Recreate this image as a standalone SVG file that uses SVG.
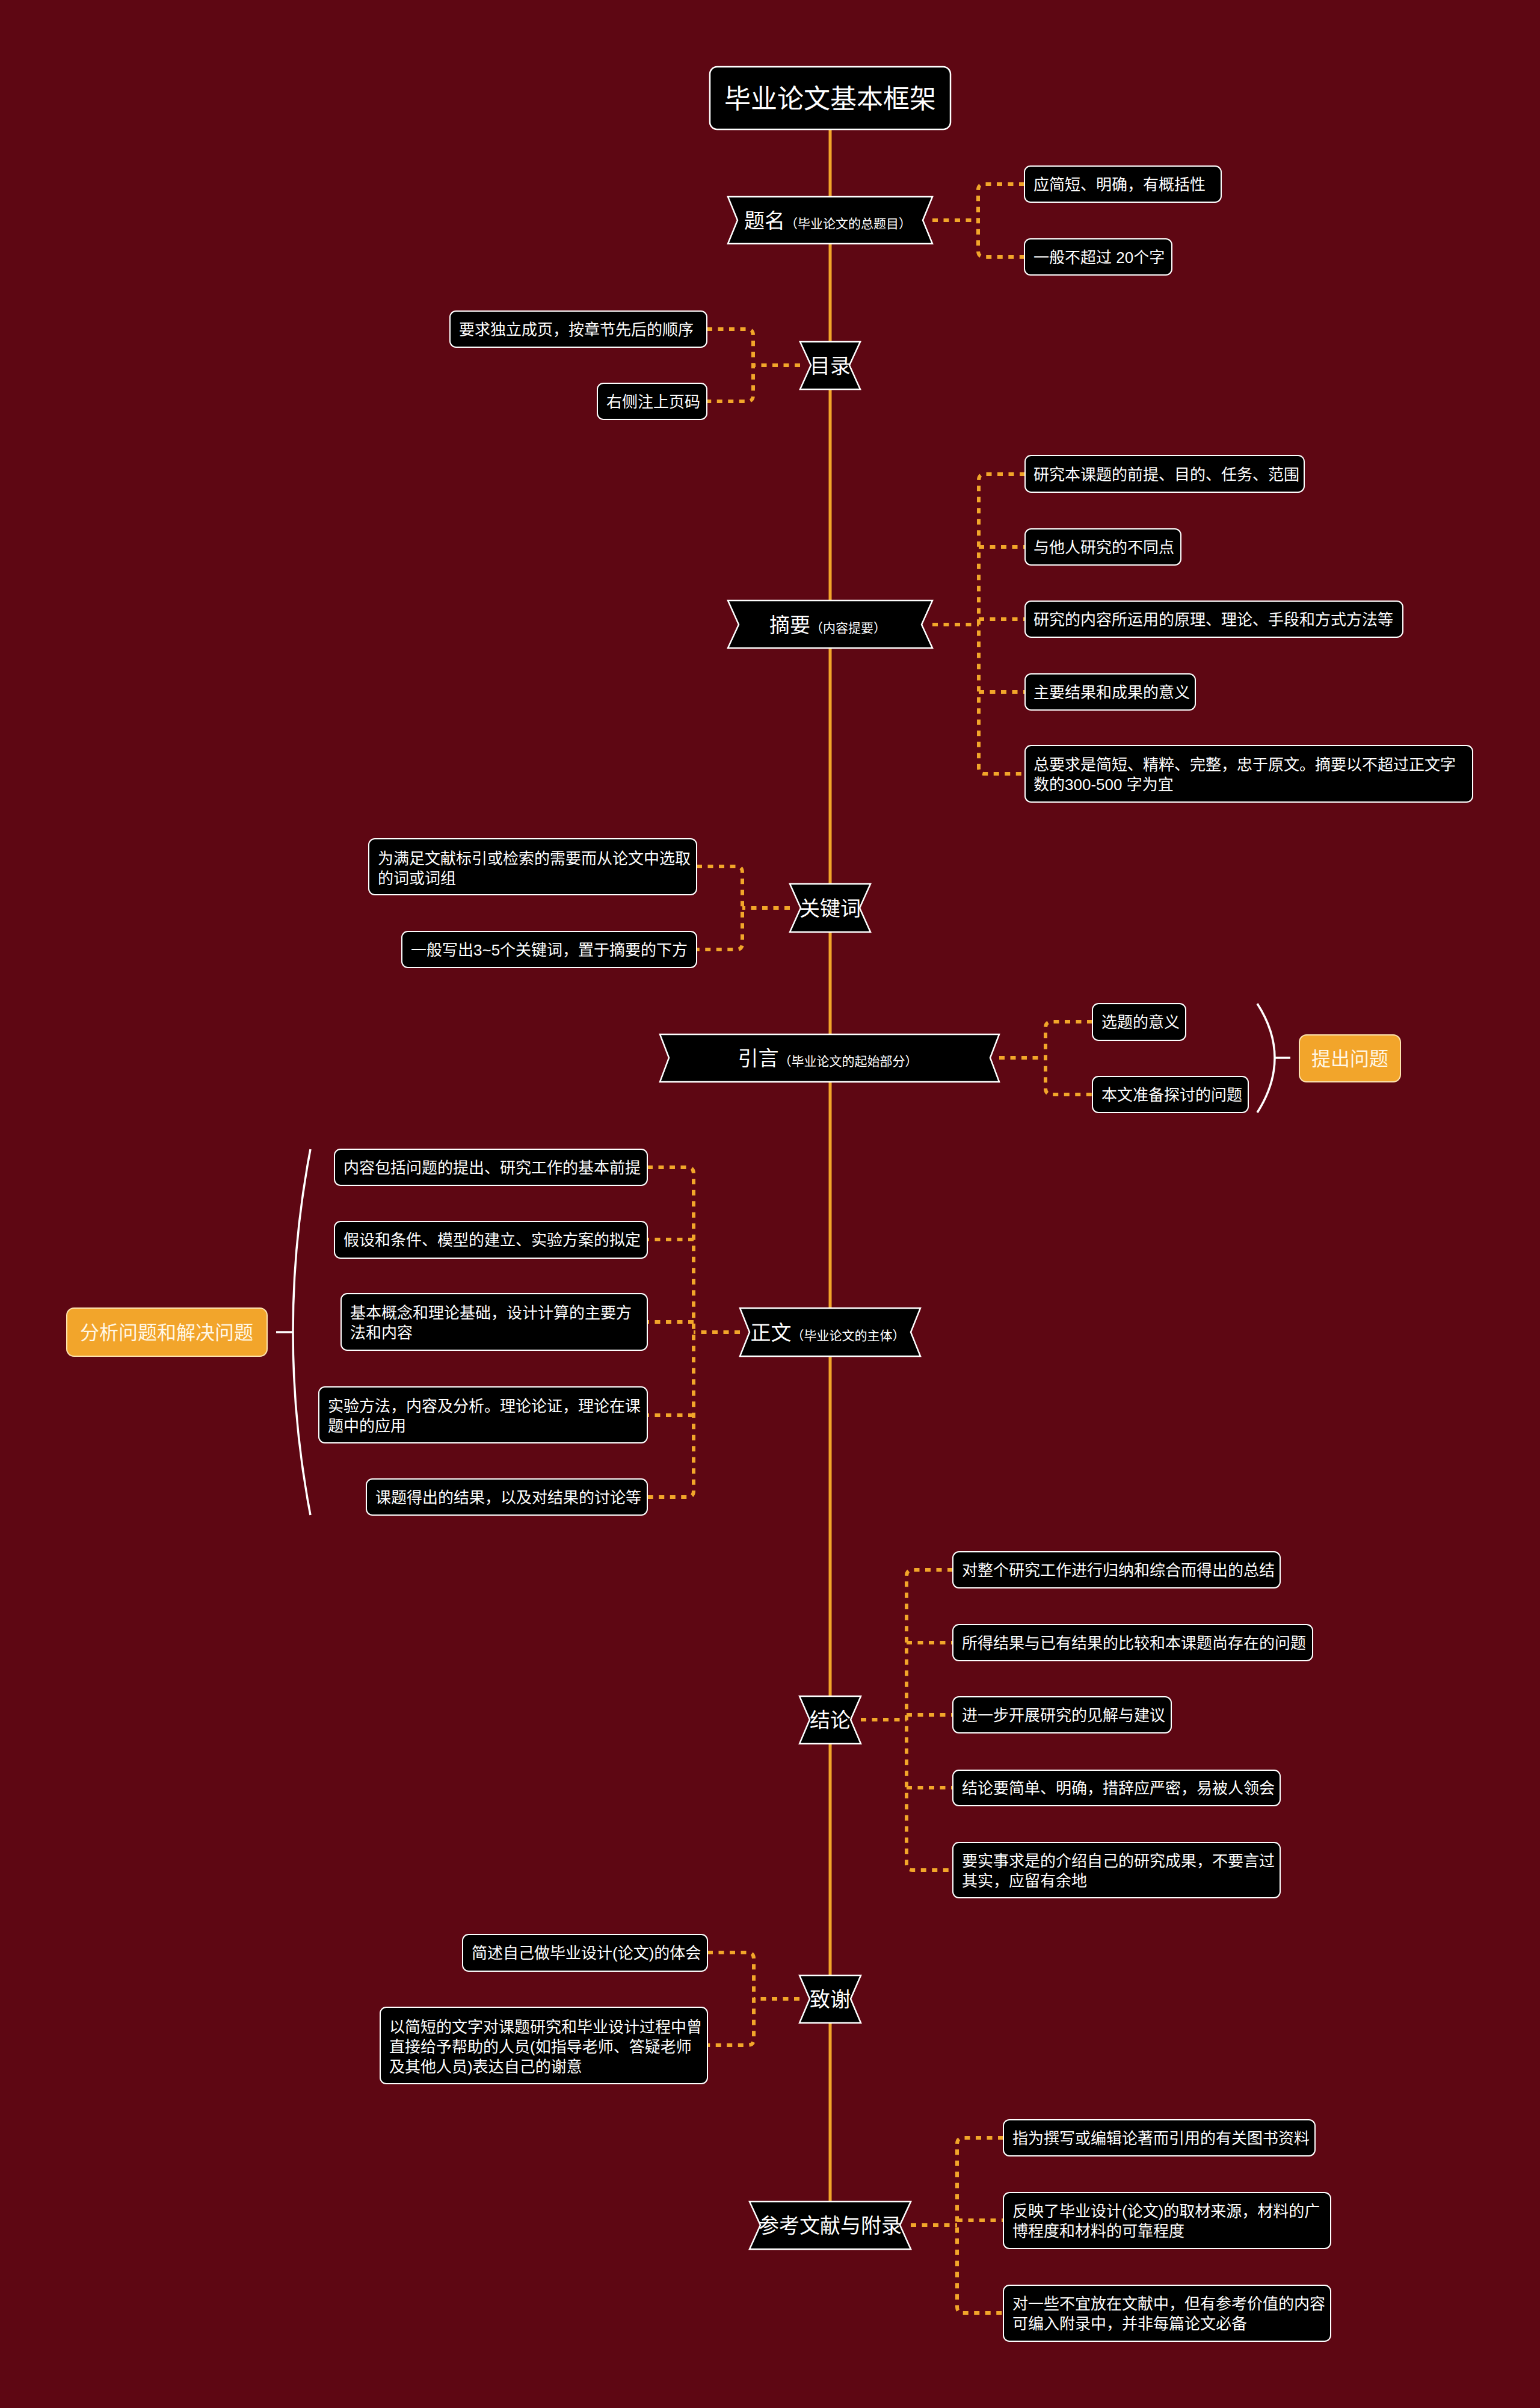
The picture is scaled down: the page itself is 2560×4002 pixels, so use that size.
<svg xmlns="http://www.w3.org/2000/svg" width="2560" height="4002" viewBox="0 0 2560 4002">
<style>
.bg{fill:#5E0713}
.spine{stroke:#F2A62A;stroke-width:5;fill:none}
.conn{fill:none;stroke:#F2A62A;stroke-width:6;stroke-dasharray:9 9.5}
.hub{fill:#000;stroke:#fff;stroke-width:2.5}
.leaf{fill:#000;stroke:#fff;stroke-width:2;rx:10px;ry:10px}
.root{fill:#000;stroke:#fff;stroke-width:2.5;rx:12px;ry:12px}
.org{fill:#F2A52B;stroke:#FCE3B0;stroke-width:2;rx:12px;ry:12px}
.brace{fill:none;stroke:#fff;stroke-width:3.5}
text{fill:#fff;font-family:"Liberation Sans","Noto Sans CJK SC",sans-serif}
.t26{font-size:26px}
.th{font-size:34px}
.ts{font-size:21px}
.tr{font-size:44px}
.to{font-size:32px;fill:#FFF7E6}
</style>
<rect class="bg" x="0" y="0" width="2560" height="4002"/>

<g id="connectors">
<line class="spine" x1="1380" y1="215" x2="1380" y2="3659"/>
<path class="conn" d="M1550,366 H1626 M1703,306 H1636 Q1626,306 1626,316 V417 Q1626,427 1636,427 H1703"/>
<path class="conn" d="M1330,607 H1252 M1175,547 H1242 Q1252,547 1252,557 V657 Q1252,667 1242,667 H1175"/>
<path class="conn" d="M1550,1038 H1627 M1704,788 H1637 Q1627,788 1627,798 V1276 Q1627,1286 1637,1286 H1704 M1627,909 H1704 M1627,1029 H1704 M1627,1150 H1704"/>
<path class="conn" d="M1313,1509 H1234 M1158,1440 H1224 Q1234,1440 1234,1450 V1568 Q1234,1578 1224,1578 H1158"/>
<path class="conn" d="M1661,1758 H1738 M1816,1698 H1748 Q1738,1698 1738,1708 V1809 Q1738,1819 1748,1819 H1816"/>
<path class="conn" d="M1230,2214 H1153 M1076,1940 H1143 Q1153,1940 1153,1950 V2478 Q1153,2488 1143,2488 H1076 M1153,2060 H1076 M1153,2197 H1076 M1153,2352 H1076"/>
<path class="conn" d="M1431,2858 H1507 M1584,2609 H1517 Q1507,2609 1507,2619 V3098 Q1507,3108 1517,3108 H1584 M1507,2730 H1584 M1507,2850 H1584 M1507,2971 H1584"/>
<path class="conn" d="M1329,3322 H1253 M1176,3245 H1243 Q1253,3245 1253,3255 V3389 Q1253,3399 1243,3399 H1176"/>
<path class="conn" d="M1514,3698 H1591 M1668,3553 H1601 Q1591,3553 1591,3563 V3834 Q1591,3844 1601,3844 H1668 M1591,3690 H1668"/>
<path class="brace" d="M2090,1668 Q2148,1758 2090,1849 M2119,1758 H2145"/>
<path class="brace" d="M516,1910 Q458,2214 516,2518 M487,2214 H459"/>
</g>

<g id="root">
<rect class="root" x="1180" y="111" width="400" height="104"/>
<text class="tr" x="1380" y="180" text-anchor="middle">毕业论文基本框架</text>
</g>

<g id="n-timing">
<polygon class="hub" points="1210,327 1550,327 1534,366 1550,405 1210,405 1226,366"/>
<text x="1376" y="379" text-anchor="middle"><tspan class="th">题名</tspan><tspan class="ts">（毕业论文的总题目）</tspan></text>
</g>
<g id="l-timing-1"><rect class="leaf" x="1703" y="276" width="327" height="60"/><text class="t26" x="1718" y="316">应简短、明确，有概括性</text></g>
<g id="l-timing-2"><rect class="leaf" x="1703" y="397" width="245" height="60"/><text class="t26" x="1718" y="437">一般不超过 20个字</text></g>

<g id="n-mulu">
<polygon class="hub" points="1330,568 1430,568 1412,607 1430,647 1330,647 1348,607"/>
<text class="th" x="1380" y="620" text-anchor="middle">目录</text>
</g>
<g id="l-mulu-1"><rect class="leaf" x="748" y="517" width="427" height="60"/><text class="t26" x="763" y="557">要求独立成页，按章节先后的顺序</text></g>
<g id="l-mulu-2"><rect class="leaf" x="993" y="637" width="182" height="60"/><text class="t26" x="1008" y="677">右侧注上页码</text></g>

<g id="n-zhaiyao">
<polygon class="hub" points="1210,998 1550,998 1532,1038 1550,1077 1210,1077 1228,1038"/>
<text x="1376" y="1051" text-anchor="middle"><tspan class="th">摘要</tspan><tspan class="ts">（内容提要）</tspan></text>
</g>
<g id="l-zy-1"><rect class="leaf" x="1704" y="757" width="464" height="61"/><text class="t26" x="1718" y="798">研究本课题的前提、目的、任务、范围</text></g>
<g id="l-zy-2"><rect class="leaf" x="1704" y="879" width="259" height="60"/><text class="t26" x="1718" y="919">与他人研究的不同点</text></g>
<g id="l-zy-3"><rect class="leaf" x="1704" y="999" width="628" height="60"/><text class="t26" x="1718" y="1039">研究的内容所运用的原理、理论、手段和方式方法等</text></g>
<g id="l-zy-4"><rect class="leaf" x="1704" y="1120" width="283" height="60"/><text class="t26" x="1718" y="1160">主要结果和成果的意义</text></g>
<g id="l-zy-5"><rect class="leaf" x="1704" y="1239" width="744" height="94"/><text class="t26" x="1718" y="1280">总要求是简短、精粹、完整，忠于原文。摘要以不超过正文字</text><text class="t26" x="1718" y="1313">数的300-500 字为宜</text></g>

<g id="n-guanjianci">
<polygon class="hub" points="1313,1469 1447,1469 1429,1509 1447,1549 1313,1549 1331,1509"/>
<text class="th" x="1380" y="1522" text-anchor="middle">关键词</text>
</g>
<g id="l-gjc-1"><rect class="leaf" x="613" y="1394" width="545" height="93"/><text class="t26" x="628" y="1436">为满足文献标引或检索的需要而从论文中选取</text><text class="t26" x="628" y="1469">的词或词组</text></g>
<g id="l-gjc-2"><rect class="leaf" x="668" y="1548" width="490" height="60"/><text class="t26" x="683" y="1588">一般写出3~5个关键词，置于摘要的下方</text></g>

<g id="n-yinyan">
<polygon class="hub" points="1097,1719 1661,1719 1646,1758 1661,1798 1097,1798 1112,1758"/>
<text x="1376" y="1771" text-anchor="middle"><tspan class="th">引言</tspan><tspan class="ts">（毕业论文的起始部分）</tspan></text>
</g>
<g id="l-yy-1"><rect class="leaf" x="1816" y="1668" width="155" height="61"/><text class="t26" x="1831" y="1708">选题的意义</text></g>
<g id="l-yy-2"><rect class="leaf" x="1816" y="1789" width="259" height="60"/><text class="t26" x="1831" y="1829">本文准备探讨的问题</text></g>
<g id="s-tichu"><rect class="org" x="2160" y="1720" width="168" height="78"/><text class="to" x="2244" y="1771" text-anchor="middle">提出问题</text></g>

<g id="n-zhengwen">
<polygon class="hub" points="1230,2174 1530,2174 1514,2214 1530,2254 1230,2254 1246,2214"/>
<text x="1376" y="2227" text-anchor="middle"><tspan class="th">正文</tspan><tspan class="ts">（毕业论文的主体）</tspan></text>
</g>
<g id="l-zw-1"><rect class="leaf" x="556" y="1910" width="520" height="60"/><text class="t26" x="571" y="1950">内容包括问题的提出、研究工作的基本前提</text></g>
<g id="l-zw-2"><rect class="leaf" x="556" y="2030" width="520" height="61"/><text class="t26" x="571" y="2070">假设和条件、模型的建立、实验方案的拟定</text></g>
<g id="l-zw-3"><rect class="leaf" x="567" y="2150" width="509" height="94"/><text class="t26" x="582" y="2191">基本概念和理论基础，设计计算的主要方</text><text class="t26" x="582" y="2224">法和内容</text></g>
<g id="l-zw-4"><rect class="leaf" x="530" y="2305" width="546" height="93"/><text class="t26" x="545" y="2346">实验方法，内容及分析。理论论证，理论在课</text><text class="t26" x="545" y="2379">题中的应用</text></g>
<g id="l-zw-5"><rect class="leaf" x="609" y="2458" width="467" height="60"/><text class="t26" x="624" y="2498">课题得出的结果，以及对结果的讨论等</text></g>
<g id="s-fenxi"><rect class="org" x="111" y="2174" width="333" height="80"/><text class="to" x="277" y="2226" text-anchor="middle">分析问题和解决问题</text></g>

<g id="n-jielun">
<polygon class="hub" points="1329,2819 1431,2819 1414,2858 1431,2898 1329,2898 1346,2858"/>
<text class="th" x="1380" y="2871" text-anchor="middle">结论</text>
</g>
<g id="l-jl-1"><rect class="leaf" x="1584" y="2579" width="544" height="60"/><text class="t26" x="1599" y="2619">对整个研究工作进行归纳和综合而得出的总结</text></g>
<g id="l-jl-2"><rect class="leaf" x="1584" y="2700" width="598" height="60"/><text class="t26" x="1599" y="2740">所得结果与已有结果的比较和本课题尚存在的问题</text></g>
<g id="l-jl-3"><rect class="leaf" x="1584" y="2820" width="363" height="60"/><text class="t26" x="1599" y="2860">进一步开展研究的见解与建议</text></g>
<g id="l-jl-4"><rect class="leaf" x="1584" y="2942" width="544" height="59"/><text class="t26" x="1599" y="2981">结论要简单、明确，措辞应严密，易被人领会</text></g>
<g id="l-jl-5"><rect class="leaf" x="1584" y="3062" width="544" height="92"/><text class="t26" x="1599" y="3102">要实事求是的介绍自己的研究成果，不要言过</text><text class="t26" x="1599" y="3135">其实，应留有余地</text></g>

<g id="n-zhixie">
<polygon class="hub" points="1329,3283 1431,3283 1414,3322 1431,3362 1329,3362 1346,3322"/>
<text class="th" x="1380" y="3335" text-anchor="middle">致谢</text>
</g>
<g id="l-zx-1"><rect class="leaf" x="769" y="3215" width="407" height="61"/><text class="t26" x="784" y="3255">简述自己做毕业设计(论文)的体会</text></g>
<g id="l-zx-2"><rect class="leaf" x="632" y="3336" width="544" height="127"/><text class="t26" x="647" y="3378">以简短的文字对课题研究和毕业设计过程中曾</text><text class="t26" x="647" y="3411">直接给予帮助的人员(如指导老师、答疑老师</text><text class="t26" x="647" y="3444">及其他人员)表达自己的谢意</text></g>

<g id="n-cankao">
<polygon class="hub" points="1246,3659 1514,3659 1496,3698 1514,3738 1246,3738 1264,3698"/>
<text class="th" x="1380" y="3711" text-anchor="middle">参考文献与附录</text>
</g>
<g id="l-ck-1"><rect class="leaf" x="1668" y="3523" width="518" height="60"/><text class="t26" x="1683" y="3563">指为撰写或编辑论著而引用的有关图书资料</text></g>
<g id="l-ck-2"><rect class="leaf" x="1668" y="3644" width="544" height="93"/><text class="t26" x="1683" y="3684">反映了毕业设计(论文)的取材来源，材料的广</text><text class="t26" x="1683" y="3717">博程度和材料的可靠程度</text></g>
<g id="l-ck-3"><rect class="leaf" x="1668" y="3798" width="544" height="93"/><text class="t26" x="1683" y="3838">对一些不宜放在文献中，但有参考价值的内容</text><text class="t26" x="1683" y="3871">可编入附录中，并非每篇论文必备</text></g>
</svg>
